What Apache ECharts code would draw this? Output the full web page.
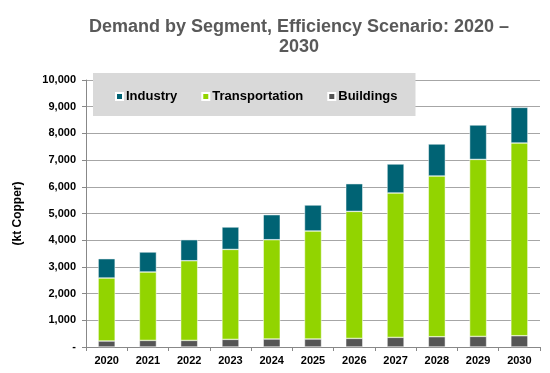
<!DOCTYPE html>
<html>
<head>
<meta charset="utf-8">
<script src="https://cdn.jsdelivr.net/npm/echarts@6/dist/echarts.min.js"></script>
<style>html,body{margin:0;padding:0;background:#fff}#c{width:550px;height:373px}</style>
</head>
<body>
<div id="c"></div>
<script>
const years = ['2020','2021','2022','2023','2024','2025','2026','2027','2028','2029','2030'];
const buildings = [225,247,247,285,300,300,322,360,386,397,423];
const transportation = [2359,2562,2985,3370,3719,4045,4757,5408,6018,6629,7217];
const industry = [723,749,787,839,936,973,1037,1086,1199,1289,1334];

const FONT = '"Liberation Sans", Arial, sans-serif';
const chart = echarts.init(document.getElementById('c'), null, {renderer:'canvas'});
chart.setOption({
  animation:false,
  textStyle:{fontFamily:FONT},
  title:{
    text:'Demand by Segment, Efficiency Scenario: 2020 –\n2030',
    left:294, top:12, textAlign:'center',
    textStyle:{fontFamily:FONT, fontSize:18, fontWeight:'bold', color:'#595959', lineHeight:20}
  },
  legend:{
    data:['Industry','Transportation','Buildings'],
    left:93, top:73,
    backgroundColor:'#d9d9d9',
    padding:[17,18,13,22],
    itemGap:24, itemWidth:7, itemHeight:7, icon:'rect',
    textStyle:{fontFamily:FONT, fontSize:13, fontWeight:'bold', color:'#000', padding:[0,0,0,-2]}
  },
  grid:{left:86, right:10, top:80, bottom:26, containLabel:false},
  xAxis:{
    type:'category', data:years,
    axisLine:{lineStyle:{color:'#888', width:1}},
    axisTick:{show:true, alignWithLabel:false, length:4, lineStyle:{color:'#888'}},
    axisLabel:{fontFamily:FONT, fontSize:11, fontWeight:'bold', color:'#000', margin:8}
  },
  yAxis:{
    type:'value', min:0, max:10000, interval:1000,
    name:'(kt Copper)', nameLocation:'middle', nameGap:62, nameRotate:90,
    nameTextStyle:{fontFamily:FONT, fontSize:12, fontWeight:'bold', color:'#000'},
    axisLine:{show:true, lineStyle:{color:'#888'}},
    axisTick:{show:true, length:4, lineStyle:{color:'#888'}},
    splitLine:{lineStyle:{color:'#a6a6a6', width:1}},
    axisLabel:{fontFamily:FONT, fontSize:11, fontWeight:'bold', color:'#000', margin:10,
      formatter:v => v === 0 ? '-' : v.toLocaleString('en-US')}
  },
  series:[
    {name:'Buildings', type:'bar', stack:'a', data:buildings, barWidth:17,
      itemStyle:{color:'#555555', borderColor:'#ffffff', borderWidth:0.5}},
    {name:'Transportation', type:'bar', stack:'a', data:transportation, barWidth:17,
      itemStyle:{color:'#92d400', borderColor:'#ffffff', borderWidth:0.5}},
    {name:'Industry', type:'bar', stack:'a', data:industry, barWidth:17,
      itemStyle:{color:'#006374', borderColor:'#ffffff', borderWidth:0.5}}
  ]
});
</script>
</body>
</html>
